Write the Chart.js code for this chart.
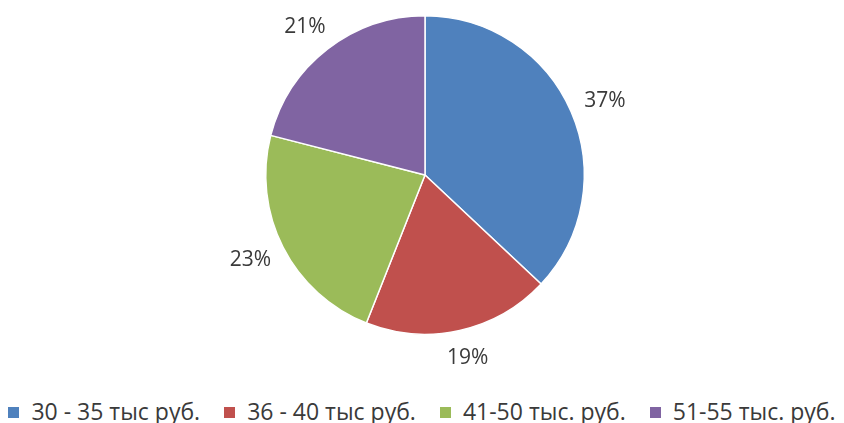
<!DOCTYPE html>
<html>
<head>
<meta charset="utf-8">
<script src="https://cdn.jsdelivr.net/npm/chart.js@4"></script>
<style>
  html, body { margin: 0; padding: 0; background: #fff; }
  #wrap { position: relative; width: 844px; height: 423px; }
  #chartBox { position: absolute; left: 0; top: 0; width: 844px; height: 385px; }
  #legend {
      position: absolute; left: 0; top: 398px; width: 844px;
      display: flex; justify-content: center; gap: 24px;
      font: 23px "Open Sans", sans-serif; color: #3a3a3a; line-height: 27px;
  }
  #legend .item { display: flex; align-items: center; white-space: nowrap; }
  #legend .box { width: 11px; height: 11px; margin-right: 12px; margin-top: 2px; }
</style>
</head>
<body>
<div id="wrap">
  <div id="chartBox"><canvas id="pieChart"></canvas></div>
  <div id="legend"></div>
</div>
<script>
// данные диаграммы
const categories = ['30 - 35 тыс руб.', '36 - 40 тыс руб.', '41-50 тыс. руб.', '51-55 тыс. руб.'];
const shares = [37, 19, 23, 21];
const sliceColors = ['#4F81BD', '#C0504D', '#9BBB59', '#8064A2'];

// подписи процентов снаружи круга
const outerLabels = {
    id: 'outerLabels',
    afterDatasetsDraw(chart) {
        const ctx = chart.ctx;
        const meta = chart.getDatasetMeta(0);
        ctx.save();
        ctx.font = '21px "Open Sans", sans-serif';
        ctx.fillStyle = '#3a3a3a';
        ctx.textAlign = 'center';
        ctx.textBaseline = 'middle';
        meta.data.forEach((arc, i) => {
            const text = shares[i] + '%';
            const mid = (arc.startAngle + arc.endAngle) / 2;
            const cx = Math.cos(mid), cy = Math.sin(mid);
            const r = arc.outerRadius + 16;
            const hw = ctx.measureText(text).width / 2;
            const hh = 12;
            ctx.fillText(text, arc.x + cx * r + cx * hw, arc.y + cy * r + cy * hh);
        });
        ctx.restore();
    }
};

document.addEventListener("DOMContentLoaded", function () {
    // легенда под диаграммой
    const legend = document.getElementById('legend');
    categories.forEach((name, i) => {
        const item = document.createElement('div');
        item.className = 'item';
        item.innerHTML = '<span class="box" style="background:' + sliceColors[i] + '"></span>' + name;
        legend.appendChild(item);
    });

    const ctx = document.getElementById('pieChart').getContext('2d');
    new Chart(ctx, {
        type: 'pie',
        data: {
            labels: categories,
            datasets: [{
                data: shares,
                backgroundColor: sliceColors,
                borderColor: '#ffffff',
                borderWidth: 1.5
            }]
        },
        options: {
            responsive: true,
            maintainAspectRatio: false,
            animation: false,
            layout: { padding: { top: 15, bottom: 50, left: 6 } },
            plugins: {
                tooltip: { enabled: false },
                legend: { display: false }
            }
        },
        plugins: [outerLabels]
    });
});
</script>
</body>
</html>
